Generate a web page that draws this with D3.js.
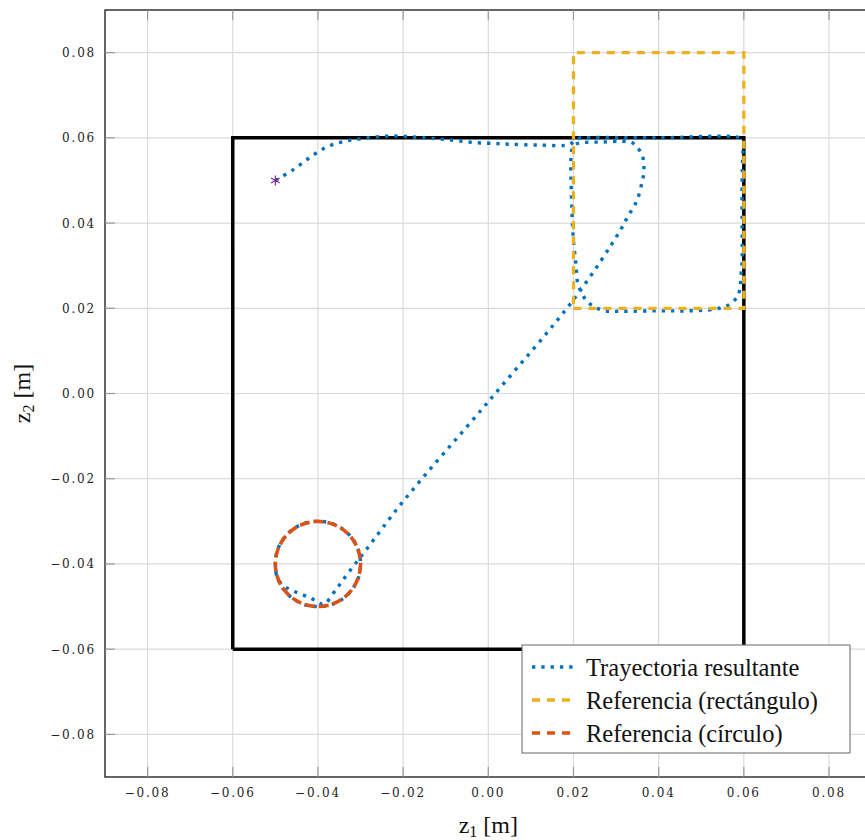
<!DOCTYPE html>
<html>
<head>
<meta charset="utf-8">
<script src="https://cdn.jsdelivr.net/npm/d3@7"></script>
<style>
  body { margin: 0; background: #fff; }
  svg { display: block; }
  .tick-label { font-family: "DejaVu Serif", serif; font-size: 12px; letter-spacing: 1.8px; fill: #222; }
  .axis-title { font-family: "Liberation Serif", "Times New Roman", serif; font-size: 24px; fill: #111; }
  .legend-text { font-family: "Liberation Serif", "Times New Roman", serif; font-size: 24.5px; fill: #111; }
</style>
</head>
<body>
<script>
(function (d3) {
  "use strict";

  /***** Data *****/
  var xTicks = [-0.08, -0.06, -0.04, -0.02, 0.00, 0.02, 0.04, 0.06, 0.08];
  var yTicks = [-0.08, -0.06, -0.04, -0.02, 0.00, 0.02, 0.04, 0.06, 0.08];

  // workspace limits (black box)
  var workspace = [[-0.06, -0.06], [0.06, -0.06], [0.06, 0.06], [-0.06, 0.06], [-0.06, -0.06]];

  // reference rectangle corners
  var refRect = [[0.02, 0.02], [0.06, 0.02], [0.06, 0.08], [0.02, 0.08], [0.02, 0.02]];

  // reference circle: centre and radius
  var refCircle = [{ cx: -0.04, cy: -0.04, r: 0.01 }];

  var startPoint = [[-0.05, 0.05]];

  // resulting trajectory
  var trajectory = [
    [-0.0500, 0.0500], [-0.0457, 0.0526], [-0.0419, 0.0554], [-0.0382, 0.0577],
    [-0.0342, 0.0591], [-0.0297, 0.0598], [-0.0255, 0.0603], [-0.0210, 0.0604],
    [-0.0166, 0.0601], [-0.0123, 0.0598], [-0.0079, 0.0594], [-0.0034, 0.0589],
    [0.0008, 0.0587], [0.0051, 0.0585], [0.0121, 0.0583], [0.0191, 0.0584],
    // rectangle loop
    [0.0200, 0.0592], [0.0210, 0.0598], [0.0227, 0.0600], [0.0400, 0.0600],
    [0.0591, 0.0600], [0.0599, 0.0592], [0.0598, 0.0570], [0.0596, 0.0500],
    [0.0596, 0.0383], [0.0596, 0.0313], [0.0593, 0.0273], [0.0591, 0.0247],
    [0.0584, 0.0226], [0.0563, 0.0207], [0.0532, 0.0198], [0.0469, 0.0194],
    [0.0403, 0.0194], [0.0314, 0.0193], [0.0274, 0.0194], [0.0250, 0.0203],
    [0.0231, 0.0217], [0.0220, 0.0235], [0.0210, 0.0259], [0.0206, 0.0301],
    [0.0199, 0.0371], [0.0196, 0.0441], [0.0194, 0.0512], [0.0194, 0.0552],
    [0.0197, 0.0574], [0.0206, 0.0585], [0.0224, 0.0589], [0.0269, 0.0590],
    [0.0314, 0.0592], [0.0337, 0.0589], [0.0351, 0.0576], [0.0361, 0.0560],
    [0.0365, 0.0540], [0.0365, 0.0517], [0.0361, 0.0496], [0.0349, 0.0453],
    [0.0328, 0.0416], [0.0307, 0.0378],
    // diagonal towards the circle
    [0.0203, 0.0224], [0.0001, -0.0018], [-0.0199, -0.0252], [-0.0290, -0.0371],
    [-0.0328, -0.0420], [-0.0356, -0.0458], [-0.0387, -0.0495],
    // chord inside the circle
    [-0.0401, -0.0488], [-0.0424, -0.0477], [-0.0466, -0.0460], [-0.0483, -0.0449],
    [-0.0495, -0.0433],
    // circle loop
    [-0.0500, -0.0410], [-0.0499, -0.0390], [-0.0497, -0.0374], [-0.0487, -0.0350],
    [-0.0471, -0.0329], [-0.0450, -0.0313], [-0.0426, -0.0303], [-0.0400, -0.0300],
    [-0.0374, -0.0303], [-0.0350, -0.0313], [-0.0329, -0.0329], [-0.0313, -0.0350],
    [-0.0303, -0.0374], [-0.0300, -0.0400], [-0.0303, -0.0426], [-0.0313, -0.0450],
    [-0.0329, -0.0471], [-0.0350, -0.0487], [-0.0374, -0.0497], [-0.0400, -0.0500],
    [-0.0426, -0.0497], [-0.0450, -0.0487], [-0.0471, -0.0471], [-0.0487, -0.0450],
    [-0.0497, -0.0426], [-0.0500, -0.0405]
  ];

  var legendLabels = ["Trayectoria resultante", "Referencia (rectángulo)", "Referencia (círculo)"];

  /***** Configuration *****/
  var width = 865, height = 840;
  var margin = { top: 10, left: 105 };
  var plotW = 766.6, plotH = 767;

  var colTraj = "#0072BD", colRect = "#EDB120", colCirc = "#D95319", colStart = "#7E2F8E";
  var dashTraj = "3.3,6", dashRef = "8,7", dashCirc = "10,4";

  var xScale = d3.scaleLinear().domain([-0.09, 0.09]).range([0, plotW]);
  var yScale = d3.scaleLinear().domain([-0.09, 0.09]).range([plotH, 0]);
  var fmt = d3.format(".2f");

  var svg = d3.select("body").append("svg")
      .attr("width", width)
      .attr("height", height);

  svg.append("defs").append("clipPath").attr("id", "plot-clip")
    .append("rect").attr("width", plotW).attr("height", plotH);

  var g = svg.append("g")
      .attr("transform", "translate(" + margin.left + "," + margin.top + ")");

  /***** Grid *****/
  g.append("g").selectAll("line.gx").data(xTicks).join("line")
      .attr("x1", function (d) { return xScale(d); })
      .attr("x2", function (d) { return xScale(d); })
      .attr("y1", 0).attr("y2", plotH)
      .attr("stroke", "#dadada").attr("stroke-width", 1.2);
  g.append("g").selectAll("line.gy").data(yTicks).join("line")
      .attr("y1", function (d) { return yScale(d); })
      .attr("y2", function (d) { return yScale(d); })
      .attr("x1", 0).attr("x2", plotW)
      .attr("stroke", "#dadada").attr("stroke-width", 1.2);

  var line = d3.line()
      .x(function (d) { return xScale(d[0]); })
      .y(function (d) { return yScale(d[1]); });

  var plot = g.append("g").attr("clip-path", "url(#plot-clip)");

  /***** Workspace box *****/
  plot.append("path").datum(workspace)
      .attr("d", line)
      .attr("fill", "none").attr("stroke", "#000").attr("stroke-width", 3.5);

  /***** Trajectory *****/
  plot.append("path").datum(trajectory)
      .attr("d", line.curve(d3.curveCatmullRom.alpha(0.5)))
      .attr("fill", "none").attr("stroke", colTraj)
      .attr("stroke-width", 3.4).attr("stroke-dasharray", dashTraj);
  line.curve(d3.curveLinear);

  /***** References *****/
  plot.append("path").datum(refRect)
      .attr("d", line)
      .attr("fill", "none").attr("stroke", colRect)
      .attr("stroke-width", 3.3).attr("stroke-dasharray", dashRef);

  plot.selectAll("circle.ref").data(refCircle).join("circle")
      .attr("cx", function (d) { return xScale(d.cx); })
      .attr("cy", function (d) { return yScale(d.cy); })
      .attr("r", function (d) { return xScale(d.r) - xScale(0); })
      .attr("fill", "none").attr("stroke", colCirc)
      .attr("stroke-width", 3.6).attr("stroke-dasharray", dashCirc);

  plot.selectAll("path.start").data(startPoint).join("path")
      .attr("transform", function (d) { return "translate(" + xScale(d[0]) + "," + yScale(d[1]) + ")"; })
      .attr("d", d3.symbol(d3.symbolAsterisk, 70))
      .attr("fill", "none").attr("stroke", colStart).attr("stroke-width", 1.2);

  /***** Axes frame, ticks and labels *****/
  g.append("rect").attr("width", plotW).attr("height", plotH)
      .attr("fill", "none").attr("stroke", "#000").attr("stroke-width", 1.2);

  var tickLen = 10;
  var tg = g.append("g").attr("stroke", "#999").attr("stroke-width", 1.2);
  xTicks.forEach(function (t) {
    tg.append("line").attr("x1", xScale(t)).attr("x2", xScale(t)).attr("y1", 0).attr("y2", tickLen);
    tg.append("line").attr("x1", xScale(t)).attr("x2", xScale(t)).attr("y1", plotH).attr("y2", plotH - tickLen);
  });
  yTicks.forEach(function (t) {
    tg.append("line").attr("y1", yScale(t)).attr("y2", yScale(t)).attr("x1", 0).attr("x2", tickLen);
  });

  g.append("g").selectAll("text").data(xTicks).join("text")
      .attr("class", "tick-label")
      .attr("x", function (d) { return xScale(d); })
      .attr("y", plotH + 20)
      .attr("text-anchor", "middle")
      .text(function (d) { return fmt(d); });

  g.append("g").selectAll("text").data(yTicks).join("text")
      .attr("class", "tick-label")
      .attr("x", -9)
      .attr("y", function (d) { return yScale(d) + 4.5; })
      .attr("text-anchor", "end")
      .text(function (d) { return fmt(d); });

  var xt = svg.append("text").attr("class", "axis-title")
      .attr("x", margin.left + xScale(0)).attr("y", 833)
      .attr("text-anchor", "middle");
  xt.append("tspan").text("z");
  xt.append("tspan").attr("font-size", 16).attr("dy", 4).text("1");
  xt.append("tspan").attr("dy", -4).text(" [m]");

  var yt = svg.append("text").attr("class", "axis-title")
      .attr("transform", "translate(30," + (margin.top + yScale(0)) + ") rotate(-90)")
      .attr("text-anchor", "middle");
  yt.append("tspan").text("z");
  yt.append("tspan").attr("font-size", 16).attr("dy", 4).text("2");
  yt.append("tspan").attr("dy", -4).text(" [m]");

  /***** Legend *****/
  var legend = svg.append("g").attr("transform", "translate(522,645)");
  legend.append("rect").attr("width", 328).attr("height", 108)
      .attr("fill", "#fff").attr("stroke", "#666").attr("stroke-width", 1);

  var legendStyles = [
    { color: colTraj, dash: dashTraj },
    { color: colRect, dash: dashRef },
    { color: colCirc, dash: dashRef }
  ];
  var rows = legend.selectAll("g.row").data(legendLabels).join("g")
      .attr("transform", function (d, i) { return "translate(0," + (22 + i * 33) + ")"; });
  rows.append("line")
      .attr("x1", 10).attr("x2", 52).attr("y1", 0).attr("y2", 0)
      .attr("stroke", function (d, i) { return legendStyles[i].color; })
      .attr("stroke-width", 3.3)
      .attr("stroke-dasharray", function (d, i) { return legendStyles[i].dash; });
  rows.append("text").attr("class", "legend-text")
      .attr("x", 64).attr("y", 8.5)
      .text(function (d) { return d; });

})(d3);
</script>
</body>
</html>
